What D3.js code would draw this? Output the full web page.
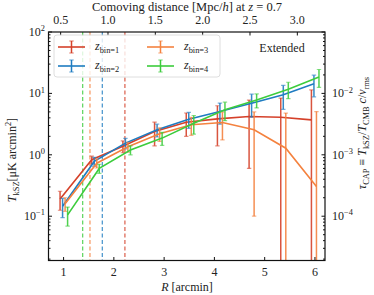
<!DOCTYPE html>
<html>
<head>
<meta charset="utf-8">
<script src="https://cdn.jsdelivr.net/npm/d3@7"></script>
<style>
  body { margin: 0; background: #fff; }
  text { font-family: "Liberation Serif", "DejaVu Serif", serif; fill: #222; }
</style>
</head>
<body>
<div id="chart"></div>
<script>
// ---- data ----
const binNames = ["1", "2", "3", "4"];
const binColors = ["#d5412a", "#1f7cc1", "#f4823f", "#3dcc3d"];

// R [arcmin] per redshift bin (points are slightly shifted per bin)
const R_z1 = [0.93, 1.56, 2.18, 2.81, 3.44, 4.06, 4.69, 5.32, 5.93];
const R_z2 = [0.98, 1.61, 2.23, 2.86, 3.49, 4.11, 4.74, 5.37, 5.98];
const R_z3 = [1.03, 1.66, 2.28, 2.91, 3.54, 4.16, 4.79, 5.42, 6.03];
const R_z4 = [1.08, 1.71, 2.33, 2.96, 3.59, 4.21, 4.84, 5.47, 6.08];

// T_kSZ [muK arcmin^2] and 1-sigma errors
const T_z1 = [0.19, 0.83, 1.38, 2.4, 3.4, 3.85, 4.2, 4.1, 3.7];
const err_z1 = [0.065, 0.12, 0.3, 1.0, 1.4, 2.45, 3.6, 4.3, 7.7];
const T_z2 = [0.145, 0.78, 1.55, 2.55, 3.8, 5.06, 6.9, 9.5, 14.3];
const err_z2 = [0.05, 0.13, 0.3, 0.6, 1.1, 1.9, 2.8, 4.0, 5.5];
const T_z3 = [0.16, 0.73, 1.35, 2.2, 3.08, 3.35, 2.55, 1.28, 0.305];
const err_z3 = [0.04, 0.12, 0.25, 0.55, 1.0, 1.6, 2.45, 3.5, 4.75];
const T_z4 = [0.105, 0.6, 1.2, 1.87, 3.27, 5.4, 7.8, 11.7, 18.5];
const err_z4 = [0.036, 0.1, 0.2, 0.45, 1.1, 1.8, 2.0, 3.5, 6.0];

// vertical dashed lines (one per bin)
const R_cut = [2.22, 1.77, 1.525, 1.38];

// ticks
const rTicks = [1, 2, 3, 4, 5, 6];
const distTicks = [0.5, 1.0, 1.5, 2.0, 2.5, 3.0];
const tExps = [-1, 0, 1, 2];
const tauExps = [-4, -3, -2];

const DIST_PER_ARCMIN = 0.531;  // Mpc/h per arcmin at z = 0.7
const TAU_PER_T = 1e-3;         // tau_CAP / T_kSZ

const series = [
  { R: R_z1, T: T_z1, err: err_z1 },
  { R: R_z2, T: T_z2, err: err_z2 },
  { R: R_z3, T: T_z3, err: err_z3 },
  { R: R_z4, T: T_z4, err: err_z4 }
];

// ---- layout ----
const W = 374, H = 295;
const PL = 48.5, PR = 325, PT = 32, PB = 260.5;

const svg = d3.select("#chart").append("svg")
    .attr("width", W)
    .attr("height", H);

const x = d3.scaleLinear().domain([0.7, 6.2]).range([PL, PR]);
const y = d3.scaleLog().domain([0.019, 100]).range([PB, PT]);
const yTau = d3.scaleLog()
    .domain(y.domain().map(d => d * TAU_PER_T))
    .range([PB, PT]);
const xDist = d3.scaleLinear()
    .domain(x.domain().map(d => d * DIST_PER_ARCMIN))
    .range([PL, PR]);

svg.append("clipPath").attr("id", "plotclip")
  .append("rect")
    .attr("x", PL).attr("y", PT)
    .attr("width", PR - PL).attr("height", PB - PT);

const plot = svg.append("g").attr("clip-path", "url(#plotclip)");

// dashed cut lines
R_cut.forEach((r, i) => {
  plot.append("line")
      .attr("x1", x(r)).attr("x2", x(r))
      .attr("y1", PT).attr("y2", PB)
      .attr("stroke", binColors[i])
      .attr("stroke-opacity", 0.85)
      .attr("stroke-width", 1.2)
      .attr("stroke-dasharray", "4,2.5");
});

const line = d3.line()
    .x(d => x(d.r))
    .y(d => y(d.t));

const LOW = 1e-3;
series.forEach((s, i) => {
  const pts = s.R.map((r, j) => ({ r: r, t: s.T[j], e: s.err[j] }));
  const g = plot.append("g");

  // error bars
  pts.forEach(p => {
    const lo = Math.max(p.t - p.e, LOW);
    const hi = p.t + p.e;
    g.append("line")
        .attr("x1", x(p.r)).attr("x2", x(p.r))
        .attr("y1", y(lo)).attr("y2", y(hi))
        .attr("stroke", binColors[i])
        .attr("stroke-opacity", 0.9)
        .attr("stroke-width", 1.5);
    [lo, hi].forEach(v => {
      if (v <= LOW) return;
      g.append("line")
          .attr("x1", x(p.r) - 2.2).attr("x2", x(p.r) + 2.2)
          .attr("y1", y(v)).attr("y2", y(v))
          .attr("stroke", binColors[i])
          .attr("stroke-opacity", 0.6)
          .attr("stroke-width", 1.2);
    });
  });

  g.append("path")
      .datum(pts)
      .attr("fill", "none")
      .attr("stroke", binColors[i])
      .attr("stroke-width", 1.6)
      .attr("d", line);
});

// ---- rich text helper ----
// styles: "i" italic, "sub"/"sup" shift, "rsub"/"rsup" shift back to baseline
function richText(sel, parts, size) {
  parts.forEach(p => {
    const txt = p[0], st = p[1].split(" ");
    const ts = sel.append("tspan").text(txt);
    if (st.includes("i")) ts.attr("font-style", "italic");
    if (st.includes("sub")) ts.attr("font-size", size * 0.7).attr("dy", size * 0.28);
    if (st.includes("sup")) ts.attr("font-size", size * 0.7).attr("dy", -size * 0.4);
    if (st.includes("rsub")) ts.attr("dy", -size * 0.28);
    if (st.includes("rsup")) ts.attr("dy", size * 0.4);
  });
  return sel;
}

// ---- frame ----
svg.append("rect")
    .attr("x", PL).attr("y", PT)
    .attr("width", PR - PL).attr("height", PB - PT)
    .attr("fill", "none")
    .attr("stroke", "#111")
    .attr("stroke-width", 1.2);

const tickG = svg.append("g").attr("stroke", "#111").attr("stroke-width", 1);
const MAJ = 3.5, MIN = 2;

// bottom ticks
rTicks.forEach(t => {
  tickG.append("line").attr("x1", x(t)).attr("x2", x(t))
      .attr("y1", PB).attr("y2", PB - MAJ);
  svg.append("text").attr("x", x(t)).attr("y", 276)
      .attr("text-anchor", "middle").attr("font-size", 12).text(t);
});

// top ticks (comoving distance)
distTicks.forEach(t => {
  tickG.append("line").attr("x1", xDist(t)).attr("x2", xDist(t))
      .attr("y1", PT).attr("y2", PT + MAJ);
  svg.append("text").attr("x", xDist(t)).attr("y", 24)
      .attr("text-anchor", "middle").attr("font-size", 12).text(t.toFixed(1));
});

// log ticks helper
function logTicks(scale, exps, xEdge, dir, labelX, anchor) {
  const [d0, d1] = scale.domain();
  const e0 = Math.floor(Math.log10(d0)), e1 = Math.ceil(Math.log10(d1));
  for (let e = e0; e <= e1; e++) {
    for (let m = 1; m <= 9; m++) {
      const v = m * Math.pow(10, e);
      if (v < d0 || v > d1) continue;
      const len = m === 1 ? MAJ : MIN;
      tickG.append("line").attr("x1", xEdge).attr("x2", xEdge + dir * len)
          .attr("y1", scale(v)).attr("y2", scale(v));
    }
  }
  exps.forEach(e => {
    const t = svg.append("text")
        .attr("x", labelX).attr("y", scale(Math.pow(10, e)) + 4)
        .attr("text-anchor", anchor).attr("font-size", 12);
    richText(t, [["10", ""], [e < 0 ? "\u2212" + (-e) : String(e), "sup"]], 12);
  });
}
logTicks(y, tExps, PL, 1, 45, "end");
logTicks(yTau, tauExps, PR, -1, 332, "start");

// ---- axis labels ----
const topLabel = svg.append("text")
    .attr("x", 187).attr("y", 11)
    .attr("text-anchor", "middle").attr("font-size", 12.5);
richText(topLabel, [["Comoving distance [Mpc/", ""], ["h", "i"], ["] at ", ""], ["z", "i"], [" = 0.7", ""]], 12.5);

const botLabel = svg.append("text")
    .attr("x", 187).attr("y", 291)
    .attr("text-anchor", "middle").attr("font-size", 12);
richText(botLabel, [["R", "i"], [" [arcmin]", ""]], 12);

const yLabel = svg.append("text")
    .attr("transform", "translate(16,160) rotate(-90)")
    .attr("text-anchor", "middle").attr("font-size", 12);
richText(yLabel, [["T", "i"], ["kSZ", "sub"], ["[\u03bcK arcmin", "rsub"], ["2", "sup"], ["]", "rsup"]], 12);

const tauLabel = svg.append("text")
    .attr("transform", "translate(366,133) rotate(-90)")
    .attr("text-anchor", "middle").attr("font-size", 12);
richText(tauLabel, [
  ["\u03c4", "i"], ["CAP", "sub"], [" \u2261 ", "rsub"],
  ["T", "i"], ["kSZ", "sub"], ["/", "rsub"],
  ["T", "i"], ["CMB", "sub"], [" ", "rsub"],
  ["c", "i"], ["/", ""], ["v", "i"], ["rms", "sub"]
], 12);

// ---- legend ----
const leg = svg.append("g");
leg.append("rect")
    .attr("x", 54).attr("y", 35).attr("width", 166).attr("height", 42)
    .attr("rx", 3)
    .attr("fill", "#fff").attr("fill-opacity", 0.8)
    .attr("stroke", "#d6d6d6").attr("stroke-width", 0.8);

const legPos = [[58, 47], [58, 66], [147, 47], [147, 66]];
binNames.forEach((nm, i) => {
  const [lx, ly] = legPos[i];
  const c = binColors[i];
  leg.append("line").attr("x1", lx).attr("x2", lx + 27).attr("y1", ly).attr("y2", ly)
      .attr("stroke", c).attr("stroke-width", 1.6);
  leg.append("line").attr("x1", lx + 13.5).attr("x2", lx + 13.5).attr("y1", ly - 6).attr("y2", ly + 6)
      .attr("stroke", c).attr("stroke-width", 1.5);
  [-6, 6].forEach(dy => {
    leg.append("line").attr("x1", lx + 11.3).attr("x2", lx + 15.7)
        .attr("y1", ly + dy).attr("y2", ly + dy)
        .attr("stroke", c).attr("stroke-opacity", 0.6).attr("stroke-width", 1.2);
  });
  const t = leg.append("text").attr("x", lx + 37).attr("y", ly + 3).attr("font-size", 12);
  richText(t, [["z", "i"], ["bin=" + nm, "sub"]], 12);
});

svg.append("text")
    .attr("x", 282).attr("y", 52)
    .attr("text-anchor", "middle").attr("font-size", 12)
    .text("Extended");
</script>
</body>
</html>
